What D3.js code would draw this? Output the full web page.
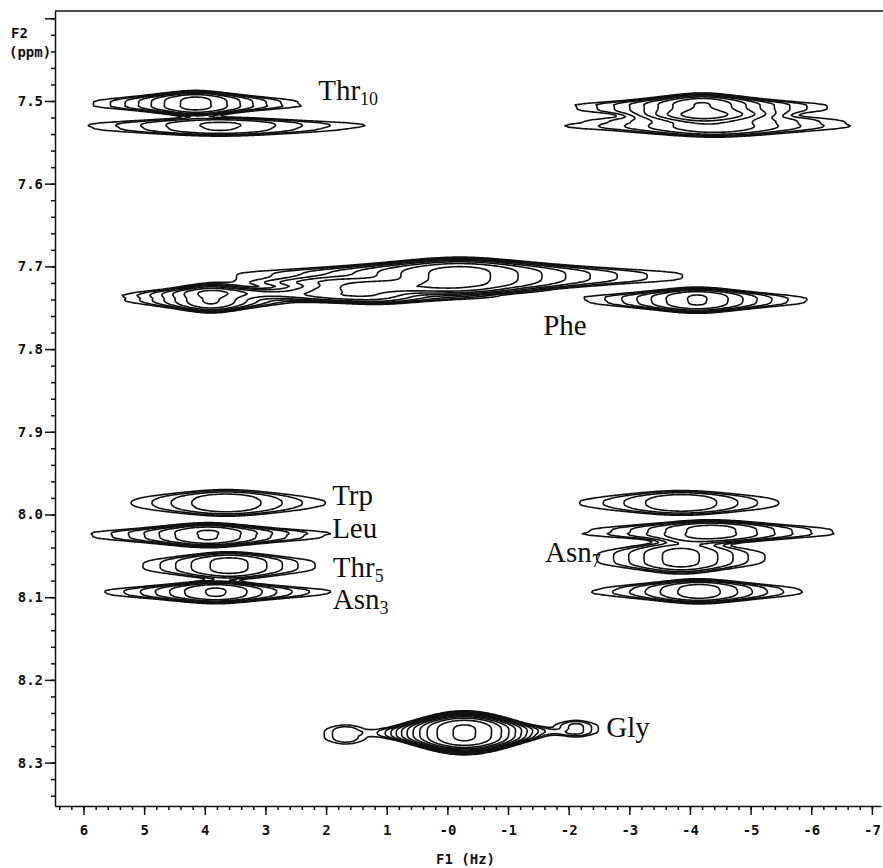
<!DOCTYPE html>
<html>
<head>
<meta charset="utf-8">
<script src="https://cdn.jsdelivr.net/npm/d3@7"></script>
<style>
body { margin: 0; background: #fff; }
svg { display: block; }
.axis text { font-family: "DejaVu Sans Mono", monospace; font-weight: bold; font-size: 14px; fill: #111; }
.axis line, .axis path { stroke: #111; stroke-width: 1.5; }
.title { font-family: "DejaVu Sans Mono", monospace; font-weight: bold; font-size: 14px; fill: #111; }
.peak-label { font-family: "Liberation Serif", "Times New Roman", serif; font-size: 29px; fill: #111; }
</style>
</head>
<body>
<svg id="chart" width="883" height="868"></svg>
<script>
// ---- DATA ----
// one entry per cross-peak component: F1 (Hz), F2 (ppm), half widths, height,
// and the Lorentzian share of the F1 line shape (the rest is Gaussian)
const peakName   = ["Thr10a", "Thr10b", "Thr10c", "Thr10d", "PheL", "PheB", "PheM1", "PheM2", "PheR",
                    "Trp", "Leu", "Thr5", "Asn3", "R7.99", "R8.02", "Asn7", "R8.09", "Gly", "GlyL", "GlyR"];
const peakF1     = [4.15, 3.75, -4.2, -4.4, 3.9, 1.9, -0.2, 1.2, -4.12,
                    3.65, 3.95, 3.6, 3.82, -3.86, -4.35, -3.85, -4.15, -0.28, 1.68, -2.12];
const peakF2     = [7.503, 7.531, 7.508, 7.528, 7.739, 7.727, 7.712, 7.733, 7.741,
                    7.986, 8.025, 8.062, 8.094, 7.986, 8.021, 8.052, 8.093, 8.264, 8.266, 8.259];
const widthF1    = [0.72, 1.38, 0.78, 1.25, 0.62, 1.0, 1.3, 0.85, 0.8,
                    1.07, 0.85, 0.88, 0.8, 1.1, 1.0, 0.86, 0.83, 0.53, 0.42, 0.37];
const widthF2    = [0.0134, 0.011, 0.0147, 0.0145, 0.015, 0.013, 0.019, 0.012, 0.0136,
                    0.0157, 0.013, 0.0159, 0.012, 0.0146, 0.0129, 0.0188, 0.0134, 0.0197, 0.0135, 0.011];
const peakHeight = [6.5, 3.3, 8, 4, 6, 3, 9, 4, 6,
                    3.0, 6, 3.6, 6, 3.0, 5, 3.6, 5, 27, 1.7, 2.0];
const lorentzShare = [1, 1, 1, 1, 1, 1, 1, 1, 1,
                      1, 1, 1, 1, 1, 1, 1, 1, 0, 1, 1];

const contourLevels = [1, 1.35, 1.8, 2.4, 3.2, 4.3, 5.8, 7.8, 10.5, 14, 19, 25.5];

const xTicks = [6, 5, 4, 3, 2, 1, 0, -1, -2, -3, -4, -5, -6, -7];
const xTickLabels = ["6", "5", "4", "3", "2", "1", "-0", "-1", "-2", "-3", "-4", "-5", "-6", "-7"];
const yTicks = [7.4, 7.5, 7.6, 7.7, 7.8, 7.9, 8.0, 8.1, 8.2, 8.3];
const yTickLabels = ["", "7.5", "7.6", "7.7", "7.8", "7.9", "8.0", "8.1", "8.2", "8.3"];

const labelText = ["Thr", "Phe", "Trp", "Leu", "Thr", "Asn", "Asn", "Gly"];
const labelSub  = ["10", "", "", "", "5", "3", "7", ""];
const labelF1   = [2.13, -1.58, 1.9, 1.9, 1.89, 1.89, -1.61, -2.62];
const labelF2   = [7.4988, 7.783, 7.9885, 8.0284, 8.0756, 8.1142, 8.0574, 8.269];

// ---- SCALES ----
const svg = d3.select("#chart");
const x = d3.scaleLinear().domain([6.47, -7.15]).range([55, 881]);
const y = d3.scaleLinear().domain([7.3912, 8.3525]).range([11, 806]);

// ---- CONTOURS ----
const step = 1.5;
const taper = 0.35;   // F2 width narrows toward the F1 tails
const nx = Math.ceil((x.range()[1] - x.range()[0]) / step);
const ny = Math.ceil((y.range()[1] - y.range()[0]) / step);
const gridX = d3.scaleLinear().domain([0, nx]).range(x.domain());
const gridY = d3.scaleLinear().domain([0, ny]).range(y.domain());

function intensity(f1, f2) {
  let s = 0;
  for (let k = 0; k < peakF1.length; k++) {
    const v = Math.abs(f2 - peakF2[k]) / widthF2[k];
    if (v > 3) continue;
    const u = (f1 - peakF1[k]) / widthF1[k];
    const eta = lorentzShare[k];
    const P = eta / (1 + u * u) + (1 - eta) * Math.exp(-u * u / 2);
    if (P < 1e-6) continue;
    const vv = v / Math.pow(P, taper);
    const v2 = vv * vv;
    s += peakHeight[k] * P * Math.exp(-v2 * v2);
  }
  return s;
}

const values = new Float64Array(nx * ny);
for (let j = 0; j < ny; j++) {
  const f2 = gridY(j + 0.5);
  for (let i = 0; i < nx; i++) values[j * nx + i] = intensity(gridX(i + 0.5), f2);
}

const contours = d3.contours().size([nx, ny]).thresholds(contourLevels)(values);
const proj = d3.geoTransform({
  point(px, py) { this.stream.point(x(gridX(px)), y(gridY(py))); }
});
const path = d3.geoPath(proj);

svg.append("clipPath").attr("id", "plot-clip")
  .append("rect").attr("x", 55).attr("y", 11).attr("width", 826).attr("height", 795);

svg.append("g").attr("clip-path", "url(#plot-clip)")
  .selectAll("path").data(contours).join("path")
  .attr("d", path)
  .attr("fill", "none")
  .attr("stroke", "#111")
  .attr("stroke-width", 1.6)
  .attr("stroke-linejoin", "round");

// ---- AXES ----
const yMinor = d3.range(7.40, 8.351, 0.02);
const xMinor = d3.range(-7.0, 6.41, 0.2);

svg.append("g").attr("class", "axis").attr("transform", "translate(55,0)")
  .call(d3.axisLeft(y).tickValues(yMinor).tickSize(4).tickSizeOuter(0).tickFormat(""));
svg.append("g").attr("class", "axis").attr("transform", "translate(55,0)")
  .call(d3.axisLeft(y).tickValues(yTicks).tickSize(10).tickPadding(2)
    .tickFormat((d, i) => yTickLabels[i]))
  .call(g => g.select(".domain").remove());

svg.append("g").attr("class", "axis").attr("transform", "translate(0,806)")
  .call(d3.axisBottom(x).tickValues(xMinor).tickSize(4).tickSizeOuter(0).tickFormat(""));
svg.append("g").attr("class", "axis").attr("transform", "translate(0,806)")
  .call(d3.axisBottom(x).tickValues(xTicks).tickSize(9).tickPadding(10)
    .tickFormat((d, i) => xTickLabels[i]))
  .call(g => g.select(".domain").remove());

// top frame line
svg.append("line").attr("x1", 55).attr("x2", 883).attr("y1", 11).attr("y2", 11)
  .attr("stroke", "#111").attr("stroke-width", 1.5);

svg.append("text").attr("class", "title").attr("x", 11).attr("y", 38).text("F2");
svg.append("text").attr("class", "title").attr("x", 9).attr("y", 57).text("(ppm)");
svg.append("text").attr("class", "title").attr("x", 436).attr("y", 864).text("F1 (Hz)");

// ---- PEAK LABELS ----
const labels = svg.append("g").selectAll("text").data(labelText).join("text")
  .attr("class", "peak-label")
  .attr("x", (d, i) => x(labelF1[i]))
  .attr("y", (d, i) => y(labelF2[i]));
labels.append("tspan").text(d => d);
labels.append("tspan")
  .attr("font-size", 18)
  .attr("dy", 5)
  .text((d, i) => labelSub[i]);
</script>
</body>
</html>
